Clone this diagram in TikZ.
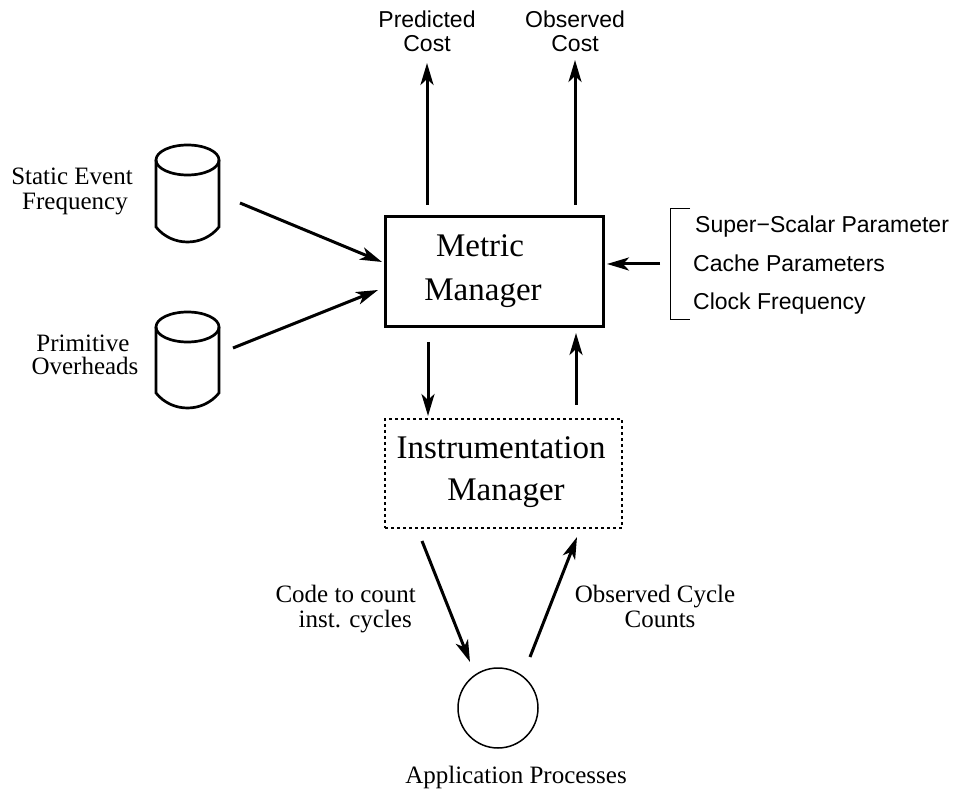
\documentclass[tikz,border=0pt]{standalone}
\usepackage{fontspec}
\setmainfont{Liberation Serif}
\setsansfont{Liberation Sans}
\usetikzlibrary{arrows.meta}
\begin{document}
\begin{tikzpicture}[x=1pt,y=-1pt,
  arr/.style={line width=3pt,-{Stealth[length=22pt,width=13pt,inset=6pt]}},
  cyl/.style={line width=2.7pt},
  big/.style={font=\fontsize{33}{39}\selectfont, inner sep=0pt, anchor=base},
  small/.style={font=\fontsize{25}{28}\selectfont, inner sep=0pt},
  sans/.style={font=\sffamily\fontsize{23}{26}\selectfont, inner sep=0pt}]
\useasboundingbox (0,0) rectangle (964,791);

% Metric manager
\node[draw, line width=3pt, minimum width=218pt, minimum height=110pt, inner sep=0pt] (mm) at (494,272) {};
\node[big] (mm1) at (480,257) {Metric};
\node[big] (mm2) at (483,301) {Manager};

% Instrumentation manager
\node[draw, dash pattern=on 3pt off 3pt, line width=1.5pt, minimum width=237pt, minimum height=109pt, inner sep=0pt] (im) at (503.5,473.5) {};
\node[big] (im1) at (501,458) {Instrumentation};
\node[big] (im2) at (506,500) {Manager};

% outputs
\node[sans, anchor=base] (pc1) at (427,28) {Predicted};
\node[sans, anchor=base] (pc2) at (427,52) {Cost};
\node[sans, anchor=base] (oc1) at (575,28) {Observed};
\node[sans, anchor=base] (oc2) at (575,52) {Cost};
\coordinate (pcA) at (427,205);
\coordinate (pcB) at (427,63);
\coordinate (ocA) at (575,205);
\coordinate (ocB) at (575,60);
\draw[arr] (pcA) -- (pcB);
\draw[arr] (ocA) -- (ocB);

% cylinders
\draw[cyl] (156,160) -- (156,227) .. controls (172,247) and (203,247) .. (219,227) -- (219,160);
\draw[cyl] (187.5,160) ellipse [x radius=31.5, y radius=15];
\draw[cyl] (156,327) -- (156,393) .. controls (172,413) and (203,413) .. (219,393) -- (219,327);
\draw[cyl] (187.5,327) ellipse [x radius=31.5, y radius=15];

\node[small, anchor=base] (se1) at (72,185) {Static Event};
\node[small, anchor=base] (se2) at (75,210) {Frequency};
\node[small, anchor=base] (po1) at (83,352) {Primitive};
\node[small, anchor=base] (po2) at (85,375) {Overheads};

\coordinate (db1) at (240,203);
\coordinate (db1t) at (382,262);
\coordinate (db2) at (233,348);
\coordinate (db2t) at (378,290);
\draw[arr] (db1) -- (db1t);
\draw[arr] (db2) -- (db2t);

% parameters
\draw[line width=1pt] (690,209) -- (670,209) -- (670,320) -- (690,320);
\node[sans, anchor=base west] (p1) at (695,233) {Super−Scalar Parameter};
\node[sans, anchor=base west] (p2) at (693,272) {Cache Parameters};
\node[sans, anchor=base west] (p3) at (693,310) {Clock Frequency};
\coordinate (parA) at (660,264);
\coordinate (parB) at (607,264);
\draw[arr] (parA) -- (parB);

% between managers
\coordinate (dA) at (428,342);
\coordinate (dB) at (428,416);
\coordinate (uA) at (576,405);
\coordinate (uB) at (576,333);
\draw[arr] (dA) -- (dB);
\draw[arr] (uA) -- (uB);

% application processes
\node[draw, circle, line width=1.5pt, minimum size=80pt, inner sep=0pt] (app) at (498,708) {};
\node[small, anchor=base] (appl) at (516,783) {Application Processes};
\coordinate (cA) at (422,541);
\coordinate (cB) at (470,662);
\coordinate (oA) at (530,657);
\coordinate (oB) at (577,537);
\draw[arr] (cA) -- (cB);
\draw[arr] (oA) -- (oB);
\node[small, anchor=base east] (c1) at (416,602) {Code to count};
\node[small, anchor=base east] (c2) at (412,627) {inst. cycles};
\node[small, anchor=base] (o1) at (655,602) {Observed Cycle};
\node[small, anchor=base] (o2) at (660,627) {Counts};
\end{tikzpicture}
\end{document}
